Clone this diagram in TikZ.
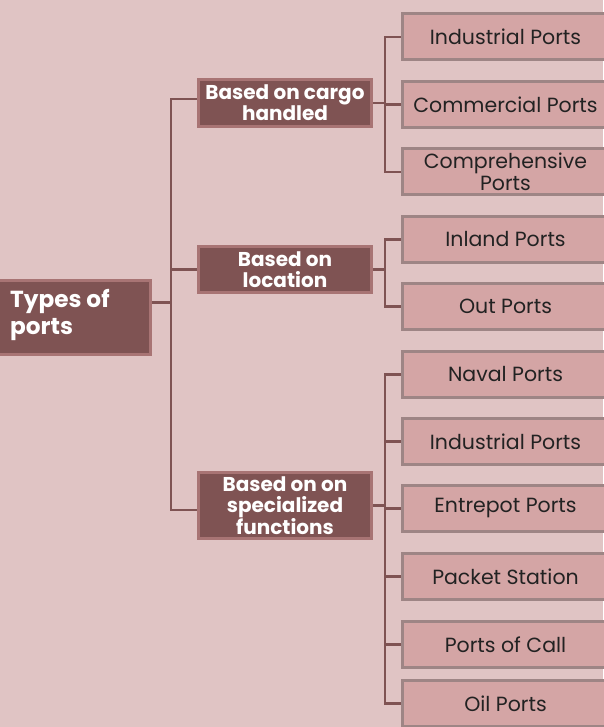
\documentclass[tikz,border=0pt]{standalone}
\usepackage{fontspec}
\setmainfont{Poppins}
\definecolor{bg}{HTML}{E0C4C4}
\definecolor{leaffill}{HTML}{D4A5A5}
\definecolor{leafline}{HTML}{9E8585}
\definecolor{midfill}{HTML}{7F5353}
\definecolor{midline}{HTML}{A87474}
\definecolor{conncol}{HTML}{7F5353}
\definecolor{txt}{HTML}{222222}
\tikzset{
  leafbox/.style={draw=leafline, fill=leaffill, line width=3pt, minimum width=207pt, minimum height=46pt, inner sep=0pt, align=center, text=txt, font=\fontsize{20.5}{22}\selectfont},
  midbox/.style={draw=midline, fill=midfill, line width=3pt, minimum width=173pt, inner sep=0pt, align=center, text=white, font=\bfseries\fontsize{20}{21}\selectfont},
  rootbox/.style={draw=midline, fill=midfill, line width=3pt, minimum width=155pt, minimum height=74pt, inner sep=0pt},
  rootlabel/.style={text=white, font=\bfseries\fontsize{23.2}{27}\selectfont, align=left, inner sep=0pt},
  conn/.style={draw=conncol, line width=2.5pt},
}
\begin{document}
\begin{tikzpicture}[x=1pt,y=-1pt]
\fill[bg] (0,0) rectangle (603,727);
\useasboundingbox (0,0) rectangle (603,727);
% root
\node[rootbox] (root) at (72.5,317.5) {};
\node[rootlabel, anchor=west] (rootlbl) at (10,314.5) {Types of\\ports};
% mid boxes
\node[midbox, minimum height=47pt] (m1) at (285,103) {Based on cargo\\handled};
\node[midbox, minimum height=46pt] (m2) at (285,269.5) {Based on\\location};
\node[midbox, minimum height=66pt] (m3) at (285,505.5) {Based on on\\specialized\\functions};
% leaves
\node[leafbox] (l1) at (505.5,37) {Industrial Ports};
\node[leafbox] (l2) at (505.5,104.5) {Commercial Ports};
\node[leafbox] (l3) at (505.5,172) {Comprehensive\\Ports};
\node[leafbox] (l4) at (505.5,239.5) {Inland Ports};
\node[leafbox] (l5) at (505.5,306.5) {Out Ports};
\node[leafbox] (l6) at (505.5,374.5) {Naval Ports};
\node[leafbox] (l7) at (505.5,441.5) {Industrial Ports};
\node[leafbox] (l8) at (505.5,508.5) {Entrepot Ports};
\node[leafbox] (l9) at (505.5,576.5) {Packet Station};
\node[leafbox] (l10) at (505.5,644.5) {Ports of Call};
\node[leafbox] (l11) at (505.5,703.5) {Oil Ports};
% trunk connectors
\coordinate (t) at (171,0);
\coordinate (b) at (385,0);
\draw[conn] ([yshift=15pt]root.east) -- ([yshift=15pt]root.east -| t);
\draw[conn] ([yshift=4pt]m1.west) -| ([yshift=-4.5pt]m3.west -| t) -- ([yshift=-4.5pt]m3.west);
\draw[conn] (m2.west) -- (m2.west -| t);
% bus connectors
\draw[conn] (m1.east) -- (m1.east -| b);
\draw[conn] (l1.west) -| (l3.west -| b) -- (l3.west);
\draw[conn] (l2.west) -- (l2.west -| b);
\draw[conn] (m2.east) -- (m2.east -| b);
\draw[conn] (l4.west) -| (l5.west -| b) -- (l5.west);
\draw[conn] (m3.east) -- (m3.east -| b);
\draw[conn] (l6.west) -| (l11.west -| b) -- (l11.west);
\foreach \i in {7,8,9,10} { \draw[conn] (l\i.west) -- (l\i.west -| b); }
\end{tikzpicture}
\end{document}
